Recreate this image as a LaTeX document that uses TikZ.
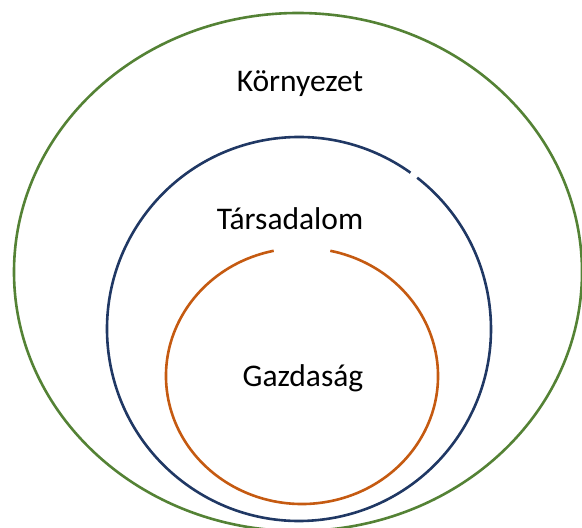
\documentclass[tikz,border=0pt]{standalone}
\usepackage{fontspec}
\setmainfont{Carlito}
\usepackage{tikz}
\definecolor{envgreen}{HTML}{548235}
\definecolor{socnavy}{HTML}{203864}
\definecolor{ecoorange}{HTML}{C55A11}

\begin{document}
\begin{tikzpicture}[x=1pt,y=1pt,
    ring/.style={line width=2.6pt},
    ringtext/.style={anchor=base,inner sep=0pt,font=\fontsize{31.5}{37}\selectfont}]
  \useasboundingbox (0,0) rectangle (582,528);
  \clip (0,0) rectangle (582,528);

  \draw[ring,envgreen] (298,256) ellipse [x radius=284, y radius=259];
  \draw[ring,socnavy] ([shift={(54.5:192)}]299,199) arc [start angle=54.5, end angle=412, radius=192];
  \draw[ring,ecoorange] ([shift={(102:136 and 128)}]302,152) arc [start angle=102, end angle=438, x radius=136, y radius=128];

  \node[ringtext] (env) at (300,436) {Környezet};
  \node[ringtext] (soc) at (290,298) {Társadalom};
  \node[ringtext] (eco) at (303,141) {Gazdaság};
\end{tikzpicture}
\end{document}
